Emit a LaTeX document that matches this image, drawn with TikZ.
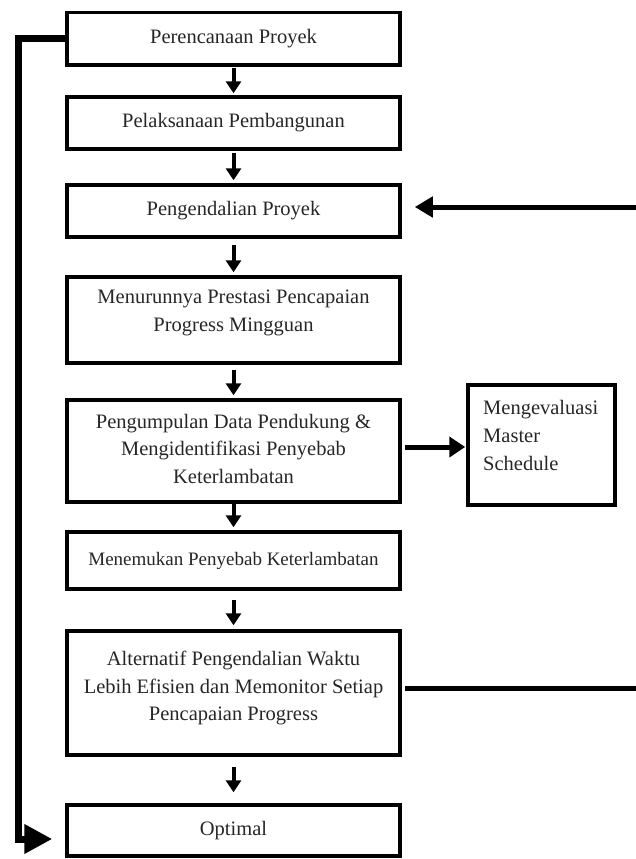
\documentclass[tikz,border=0pt]{standalone}
\usepackage{fontspec}
\setmainfont{Liberation Serif}
\usetikzlibrary{arrows.meta}
\begin{document}
\begin{tikzpicture}[x=1pt,y=-1pt,
  box/.style={draw=black, line width=3.5pt, minimum width=333pt, inner sep=0pt,
     font=\fontsize{20.5}{27.5}\selectfont, text=black!85},
  txt/.style={inner sep=0pt, align=center, font=\fontsize{20.5}{27.5}\selectfont, text=black!85},
  varrow/.style={line width=4pt, -{Triangle[length=12pt,width=15pt]}},
  harrow/.style={line width=5pt, -{Triangle[length=16pt,width=20pt]}},
  fbline/.style={line width=5pt},
  fbarrow/.style={line width=5pt, -{Triangle[length=18pt,width=20pt]}},
  leftline/.style={line width=7pt, line join=miter, -{Triangle[length=28pt,width=28pt]}}
]
\useasboundingbox (0,0) rectangle (635,859);

\node[box, minimum height=52.5pt] (b1) at (233.5,38.75) {Perencanaan Proyek};
\node[box, minimum height=52pt] (b2) at (233.5,123) {Pelaksanaan Pembangunan};
\node[box, minimum height=52pt] (b3) at (233.5,211) {Pengendalian Proyek};
\node[box, minimum height=86pt] (b4) at (233.5,320) {};
\node[txt, anchor=north] (t4) at (233.5,290) {Menurunnya Prestasi Pencapaian\\Progress Mingguan};
\node[box, minimum height=102pt] (b5) at (233.5,451) {};
\node[txt, anchor=north] (t5) at (233.5,414) {Pengumpulan Data Pendukung \&\\Mengidentifikasi Penyebab\\Keterlambatan};
\node[box, minimum height=57pt, font=\fontsize{19}{24}\selectfont] (b6) at (233.5,560.5) {Menemukan Penyebab Keterlambatan};
\node[box, minimum height=124pt] (b8) at (233.5,693) {};
\node[txt, anchor=north] (t8) at (233.5,651) {Alternatif Pengendalian Waktu\\Lebih Efisien dan Memonitor Setiap\\Pencapaian Progress};
\node[box, minimum height=51pt] (b9) at (233.5,830.5) {Optimal};

\node[box, minimum width=147pt, minimum height=120pt] (me) at (541.5,445) {};
\node[txt, align=left, anchor=north west, font=\fontsize{20.5}{28}\selectfont] (tme) at (483,400) {Mengevaluasi\\Master\\Schedule};

% vertical flow arrows
\draw[varrow, shorten <=1pt, shorten >=2pt] (b1.south) -- (b2.north);
\draw[varrow, shorten <=2pt, shorten >=3pt] (b2.south) -- (b3.north);
\draw[varrow, shorten <=6pt, shorten >=3pt] (b3.south) -- (b4.north);
\draw[varrow, shorten <=5pt, shorten >=3pt] (b4.south) -- (b5.north);
\draw[varrow, shorten <=0pt, shorten >=3pt] (b5.south) -- (b6.north);
\draw[varrow, shorten <=9pt, shorten >=4pt] (b6.south) -- (b8.north);
\draw[varrow, shorten <=10pt, shorten >=11pt] (b8.south) -- (b9.north);

% side arrow to master schedule
\draw[harrow, shorten <=3pt, shorten >=1pt] ([yshift=4pt]b5.east) -- ([yshift=4pt]b5.east -| me.west);

% right feedback
\coordinate (r1) at (636,688);
\coordinate (r2) at (636,207);
\draw[fbline, shorten <=3pt] ([yshift=5pt]b8.east) -- (r1);
\draw[fbarrow, shorten >=13pt] (r2) -- (r2 -| b3.east);

% left feedback
\coordinate (lc) at (18,839);
\draw[leftline, shorten >=13pt] (b1.west) -| (lc) -- (lc -| b9.west);
\end{tikzpicture}
\end{document}
